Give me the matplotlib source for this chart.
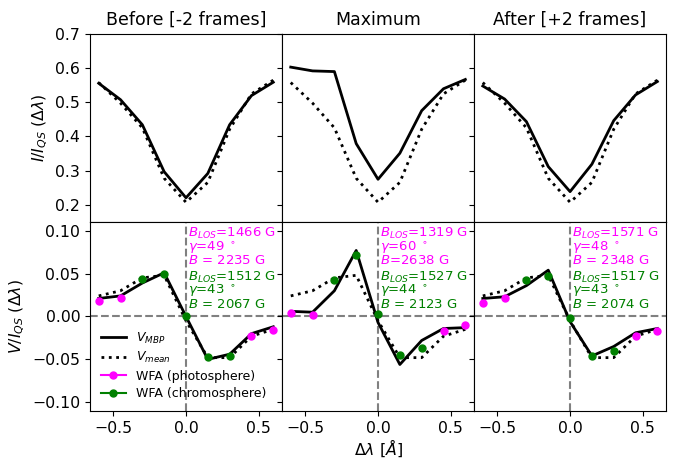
import matplotlib
matplotlib.use("Agg")
import matplotlib.pyplot as plt
from matplotlib.lines import Line2D

# wavelength offsets [A]
dlam = [-0.6, -0.45, -0.3, -0.15, 0.0, 0.15, 0.3, 0.45, 0.6]
titles = ['Before [-2 frames]', 'Maximum', 'After [+2 frames]']

# intensity profiles
I_mean = [0.557, 0.497, 0.425, 0.278, 0.208, 0.266, 0.421, 0.524, 0.564]
I_before = [0.555, 0.507, 0.434, 0.297, 0.221, 0.292, 0.434, 0.519, 0.558]
I_max = [0.602, 0.591, 0.589, 0.379, 0.275, 0.351, 0.475, 0.539, 0.566]
I_after = [0.547, 0.509, 0.443, 0.312, 0.239, 0.319, 0.446, 0.521, 0.560]

# Stokes V profiles
V_mean = [0.024, 0.030, 0.045, 0.048, -0.005, -0.048, -0.048, -0.023, -0.015]
V_before = [0.021, 0.024, 0.039, 0.051, 0.000, -0.050, -0.044, -0.020, -0.012]
V_max = [0.006, 0.005, 0.030, 0.077, -0.007, -0.056, -0.028, -0.014, -0.013]
V_after = [0.021, 0.023, 0.036, 0.054, -0.006, -0.046, -0.035, -0.019, -0.014]

# WFA fits (photosphere: wings, chromosphere: core)
x_phot = [-0.6, -0.45, 0.45, 0.6]
x_chrom = [-0.3, -0.15, 0.0, 0.15, 0.3]
phot_before = [0.018, 0.022, -0.023, -0.016]
phot_max = [0.004, 0.002, -0.017, -0.010]
phot_after = [0.016, 0.021, -0.023, -0.017]
chrom_before = [0.0435, 0.049, 0.0003, -0.0474, -0.0462]
chrom_max = [0.043, 0.0715, 0.003, -0.0447, -0.0365]
chrom_after = [0.042, 0.047, -0.002, -0.0458, -0.0404]

phot_text = [r'$B_{LOS}$=1466 G' + '\n' + r'$\gamma$=49 $^\circ$' + '\n' + r'$B$ = 2235 G',
             r'$B_{LOS}$=1319 G' + '\n' + r'$\gamma$=60 $^\circ$' + '\n' + r'$B$=2638 G',
             r'$B_{LOS}$=1571 G' + '\n' + r'$\gamma$=48 $^\circ$' + '\n' + r'$B$ = 2348 G']
chrom_text = [r'$B_{LOS}$=1512 G' + '\n' + r'$\gamma$=43 $^\circ$' + '\n' + r'$B$ = 2067 G',
              r'$B_{LOS}$=1527 G' + '\n' + r'$\gamma$=44 $^\circ$' + '\n' + r'$B$ = 2123 G',
              r'$B_{LOS}$=1517 G' + '\n' + r'$\gamma$=43 $^\circ$' + '\n' + r'$B$ = 2074 G']

I_all = [I_before, I_max, I_after]
V_all = [V_before, V_max, V_after]
phot_all = [phot_before, phot_max, phot_after]
chrom_all = [chrom_before, chrom_max, chrom_after]

plt.rcParams['font.size'] = 11.3
fig, axes = plt.subplots(2, 3, figsize=(6.79, 4.59), dpi=100, sharex='all', sharey='row')
plt.subplots_adjust(left=0.1325, right=0.981, top=0.927, bottom=0.105, wspace=0, hspace=0)

for i in range(3):
    ax1 = axes[0, i]
    ax2 = axes[1, i]
    ax1.plot(dlam, I_all[i], c='black', lw=2)
    ax1.plot(dlam, I_mean, c='black', lw=2, ls=':')
    ax1.set_title(titles[i], fontsize=12.5)
    ax1.set_ylim(0.15, 0.7)

    ax2.axhline(0, c='gray', ls='--', lw=1.5)
    ax2.axvline(0, c='gray', ls='--', lw=1.5)
    ax2.plot(dlam, V_all[i], c='black', lw=2)
    ax2.plot(dlam, V_mean, c='black', lw=2, ls=':')
    ax2.plot(x_phot, phot_all[i], 'o', c='magenta', ms=5)
    ax2.plot(x_chrom, chrom_all[i], 'o', c='green', ms=5)
    ax2.text(0.012, 0.1055, phot_text[i], color='magenta', fontsize=9.5,
             va='top', linespacing=0.85)
    ax2.text(0.012, 0.0548, chrom_text[i], color='green', fontsize=9.5,
             va='top', linespacing=0.85)
    ax2.set_ylim(-0.11, 0.11)

axes[0, 0].set_yticks([0.2, 0.3, 0.4, 0.5, 0.6, 0.7])
axes[1, 0].set_yticks([-0.10, -0.05, 0.0, 0.05, 0.10])
axes[0, 0].set_ylabel(r'$I/I_{QS}$ ($\Delta\lambda$)')
axes[1, 0].set_ylabel(r'$V/I_{QS}$ ($\Delta\lambda$)')
fig.text(0.557, 0.01, r'$\Delta\lambda$ [$\AA$]', ha='center', fontsize=11.3)

handles = [Line2D([], [], c='black', lw=2),
           Line2D([], [], c='black', lw=2, ls=':'),
           Line2D([], [], c='magenta', marker='o', ms=5),
           Line2D([], [], c='green', marker='o', ms=5)]
labels = [r'$V_{MBP}$', r'$V_{mean}$', 'WFA (photosphere)', 'WFA (chromosphere)']
axes[1, 0].legend(handles, labels, loc='lower left', frameon=False, fontsize=9,
                  handlelength=2, borderaxespad=0.45, labelspacing=0.36)

plt.savefig('out.png', dpi=100)
